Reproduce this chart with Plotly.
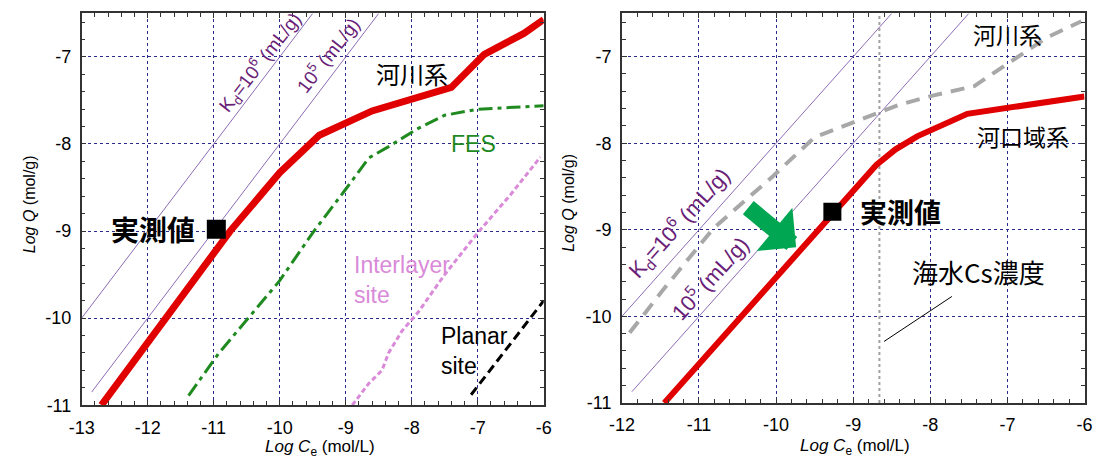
import plotly.graph_objects as go

W, H = 1103, 470

# ---------------- data (left panel) ----------------
river_ce = [-12.7, -10.75, -10.0, -9.4, -8.6, -7.4, -6.9, -6.3, -6.0]
river_q = [-11.0, -9.0, -8.33, -7.9, -7.62, -7.35, -6.97, -6.73, -6.57]

fes_ce = [-11.38, -10.93, -10.0, -9.5, -9.0, -8.65, -8.35, -7.9, -7.5, -7.0, -6.0]
fes_q = [-10.89, -10.41, -9.57, -9.02, -8.52, -8.16, -8.03, -7.82, -7.67, -7.6, -7.56]

inter_ce = [-8.9, -8.65, -8.45, -8.35, -8.15, -7.9, -7.5, -7.0, -6.5, -6.05]
inter_q = [-11.0, -10.75, -10.6, -10.4, -10.15, -9.93, -9.5, -9.02, -8.58, -8.15]

planar_ce = [-7.1, -6.0]
planar_q = [-10.88, -9.8]

kd6_left_ce = [-13.0, -9.5]
kd6_left_q = [-10.0, -6.5]
kd5_left_ce = [-12.85, -8.5]
kd5_left_q = [-10.85, -6.5]

meas_left_ce = [-10.96]
meas_left_q = [-8.98]

# ---------------- data (right panel) ----------------
river_r_ce = [-11.9, -11.48, -10.81, -10.04, -9.5, -8.87, -8.42, -7.97, -7.43, -6.98, -6.49, -6.04]
river_r_q = [-10.19, -9.71, -8.98, -8.38, -7.93, -7.71, -7.56, -7.45, -7.34, -7.07, -6.78, -6.59]

estuary_ce = [-11.45, -8.7, -8.45, -8.17, -7.52, -6.0]
estuary_q = [-11.0, -8.25, -8.07, -7.92, -7.66, -7.46]

kd6_right_ce = [-12.0, -8.5]
kd6_right_q = [-10.0, -6.5]
kd5_right_ce = [-11.87, -7.5]
kd5_right_q = [-10.87, -6.5]

seawater_ce = [-8.66, -8.66]
seawater_q = [-11.0, -6.5]

meas_right_ce = [-9.27]
meas_right_q = [-8.79]

arrow_tail = (-10.38, -8.73)
arrow_tip = (-9.74, -9.2)

pointer_ce = [-8.60, -7.72]
pointer_q = [-10.29, -9.77]

# ticks
xt_left = [-13, -12, -11, -10, -9, -8, -7, -6]
xt_left_lbl = ["-13", "-12", "-11", "-10", "-9", "-8", "-7", "-6"]
xt_right = [-12, -11, -10, -9, -8, -7, -6]
xt_right_lbl = ["-12", "-11", "-10", "-9", "-8", "-7", "-6"]
yt = [-11, -10, -9, -8, -7]
yt_lbl = ["-11", "-10", "-9", "-8", "-7"]

# ---------------- styles ----------------
SANS = "Liberation Sans, Arial, sans-serif"
JP = "Noto Sans CJK JP, sans-serif"
RED = "#e00000"
KDLINE = "#8c6cb4"
KDTEXT = "#6a1f78"

fig = go.Figure()

def line(x, y, color, width, dash="solid", xa="x", ya="y"):
    fig.add_trace(go.Scatter(x=x, y=y, mode="lines", xaxis=xa, yaxis=ya,
                             line=dict(color=color, width=width, dash=dash),
                             hoverinfo="skip", showlegend=False))

# left panel
line(kd6_left_ce, kd6_left_q, KDLINE, 1)
line(kd5_left_ce, kd5_left_q, KDLINE, 1)
line(fes_ce, fes_q, "#1f8a1f", 3, "14px,5px,4px,5px")
line(inter_ce, inter_q, "#d98ad9", 3, "5px,3px")
line(planar_ce, planar_q, "black", 3, "9px,5px")
line(river_ce, river_q, RED, 7)
fig.add_trace(go.Scatter(x=meas_left_ce, y=meas_left_q, mode="markers",
                         marker=dict(symbol="square", size=19, color="black"),
                         hoverinfo="skip", showlegend=False))

# right panel
line(seawater_ce, seawater_q, "#a0a0a0", 2, "dot", "x2", "y2")
line(kd6_right_ce, kd6_right_q, KDLINE, 1, "solid", "x2", "y2")
line(kd5_right_ce, kd5_right_q, KDLINE, 1, "solid", "x2", "y2")
line(river_r_ce, river_r_q, "#a8a8a8", 4, "14px,9px", "x2", "y2")
line(pointer_ce, pointer_q, "black", 1, "solid", "x2", "y2")
line(estuary_ce, estuary_q, RED, 6, "solid", "x2", "y2")
fig.add_trace(go.Scatter(x=meas_right_ce, y=meas_right_q, mode="markers",
                         xaxis="x2", yaxis="y2",
                         marker=dict(symbol="square", size=18, color="black"),
                         hoverinfo="skip", showlegend=False))

ann = []

def txt(x, y, s, size, color="black", fam=SANS, xa="x", ya="y", xanchor="center",
        angle=0, weight="normal", yanchor="middle", align="center"):
    ann.append(dict(x=x, y=y, xref=xa, yref=ya, text=s, showarrow=False,
                    xanchor=xanchor, yanchor=yanchor, textangle=angle, align=align,
                    font=dict(family=fam, size=size, color=color, weight=weight)))

# left labels
txt(-10.30, -7.06, "K<sub>d</sub>=10<sup>6</sup> (mL/g)", 19, KDTEXT, angle=-52)
txt(-9.27, -6.97, "10<sup>5</sup> (mL/g)", 19, KDTEXT, angle=-52)
txt(-8.0, -7.19, "河川系", 24, fam=JP)
txt(-7.06, -8.0, "FES", 23, "#1f8a1f")
txt(-8.9, -9.56, "Interlayer<br>site", 23, "#d98ad9", xanchor="left", align="left")
txt(-7.58, -10.38, "Planar<br>site", 23, "black", xanchor="left", align="left")
txt(-11.26, -8.98, "実測値", 28, fam=JP, xanchor="right", weight="bold")

# right labels
txt(-11.25, -8.92, "K<sub>d</sub>=10<sup>6</sup> (mL/g)", 22, KDTEXT, xa="x2", ya="y2", angle=-48)
txt(-10.86, -9.55, "10<sup>5</sup> (mL/g)", 22, KDTEXT, xa="x2", ya="y2", angle=-48)
txt(-7.0, -6.74, "河川系", 23, fam=JP, xa="x2", ya="y2")
txt(-6.8, -7.92, "河口域系", 23, fam=JP, xa="x2", ya="y2")
txt(-8.94, -8.79, "実測値", 27, fam=JP, xa="x2", ya="y2", xanchor="left", weight="bold")
txt(-7.37, -9.48, "海水Cs濃度", 26, fam=JP, xa="x2", ya="y2")

# green arrow
ann.append(dict(x=arrow_tip[0], y=arrow_tip[1], ax=arrow_tail[0], ay=arrow_tail[1],
                xref="x2", yref="y2", axref="x2", ayref="y2", text="",
                showarrow=True, arrowhead=1, arrowsize=0.55, arrowwidth=17,
                arrowcolor="#00a651", standoff=0, startstandoff=0))

# axis titles
def ptxt(x, y, s, size, angle=0):
    ann.append(dict(x=x / W, y=1 - y / H, xref="paper", yref="paper", text=s,
                    showarrow=False, xanchor="center", yanchor="middle",
                    textangle=angle, font=dict(family=SANS, size=size, color="black")))

ptxt(313, 458, "<i>Log C</i><sub>e</sub> (mol/L)", 17)
ptxt(858, 457, "<i>Log C</i><sub>e</sub> (mol/L)", 17)
ptxt(17, 209, "<i>Log Q</i> (mol/g)", 16, -90)
ptxt(566, 207, "<i>Log Q</i> (mol/g)", 16, -90)

fig.update_layout(annotations=ann)

def axis(rng, dom, tv, tl, anchor):
    return dict(range=rng, domain=dom, anchor=anchor, tickvals=tv, ticktext=tl,
                showline=True, linecolor="#333333", linewidth=1.5, mirror="ticks",
                ticks="inside", ticklen=5, tickwidth=1, tickcolor="#333333",
                showgrid=True, gridcolor="#2a2a8a", griddash="dot", gridwidth=1,
                zeroline=False, ticklabelstandoff=5,
                minor=dict(dtick=0.2, tick0=0, ticks="inside", ticklen=4,
                           tickcolor="#333333", showgrid=False),
                tickfont=dict(family=SANS, size=18, color="black"))

fig.update_layout(
    width=W, height=H,
    margin=dict(l=0, r=0, t=0, b=0),
    paper_bgcolor="white", plot_bgcolor="white",
    showlegend=False,
    xaxis=axis([-13, -6], [70 / W, 541 / W], xt_left, xt_left_lbl, "y"),
    yaxis=axis([-11, -6.5], [1 - 414 / H, 1 - 13.7 / H], yt, yt_lbl, "x"),
    xaxis2=axis([-12, -6], [620.7 / W, 1092.3 / W], xt_right, xt_right_lbl, "y2"),
    yaxis2=axis([-11, -6.5], [1 - 411.7 / H, 1 - 13.7 / H], yt, yt_lbl, "x2"),
)

fig.write_html("out.html")
